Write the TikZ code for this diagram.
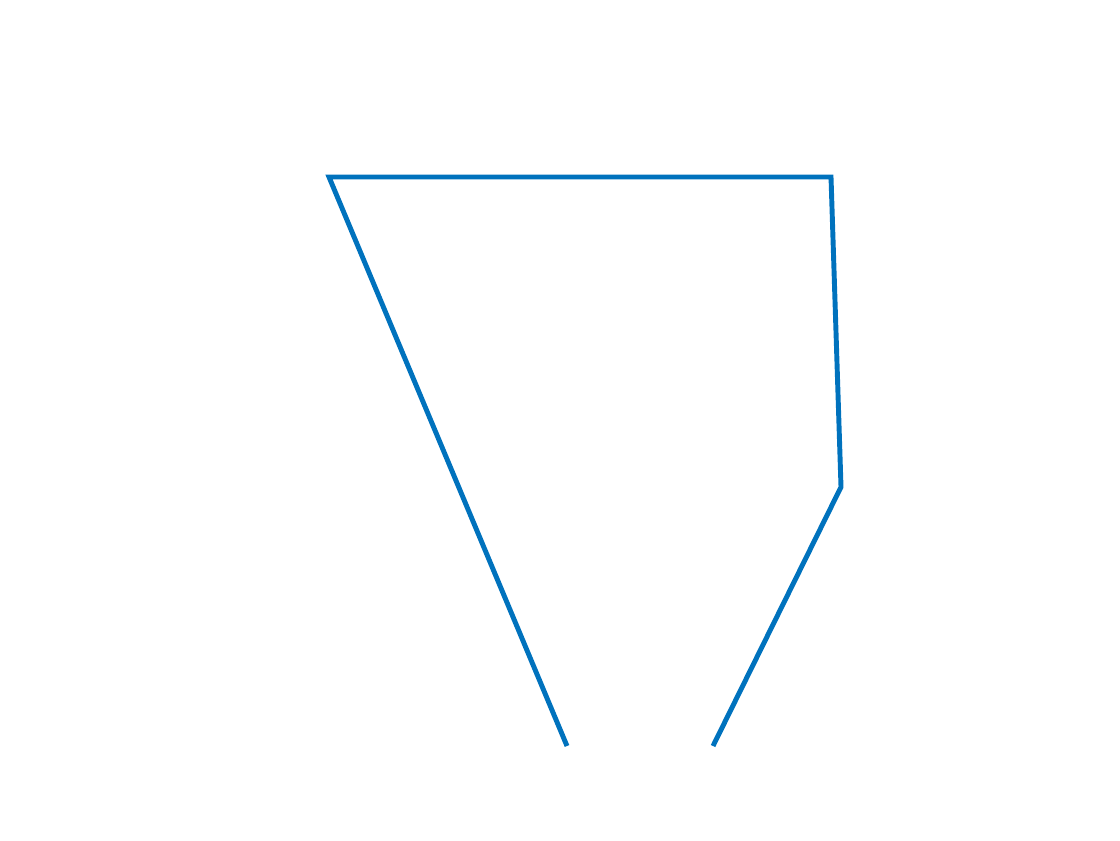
\documentclass[tikz,border=0pt]{standalone}
\usetikzlibrary{positioning}
\definecolor{cblue}{HTML}{0072BD}
\tikzset{
  outline/.style={draw=cblue, line width=3.5pt, line join=miter},
}
\begin{document}
\begin{tikzpicture}
  \useasboundingbox (0,0) rectangle (28,21);
  \coordinate (lowleft) at (14.175,2.35);
  \coordinate (topleft) at (8.225,16.575);
  \coordinate (topright) at (20.775,16.575);
  \coordinate (midright) at (21.025,8.825);
  \coordinate (lowright) at (17.825,2.35);
  \draw[outline] (lowleft) -- (topleft) -- (topright) -- (midright) -- (lowright);
\end{tikzpicture}
\end{document}
